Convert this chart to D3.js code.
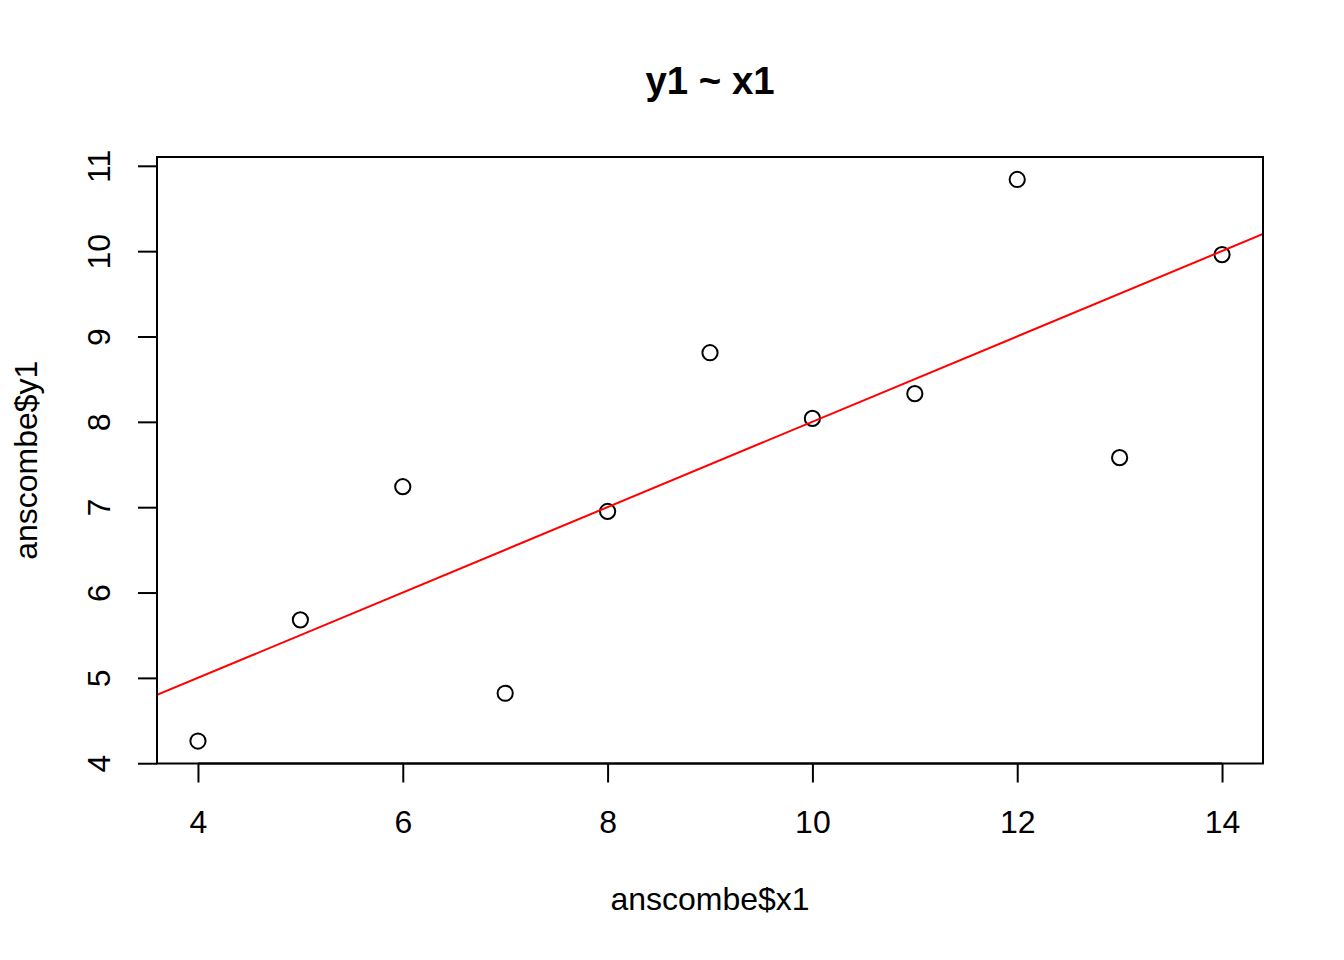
<!DOCTYPE html>
<html>
<head>
<meta charset="utf-8">
<script src="https://cdn.jsdelivr.net/npm/d3@7"></script>
<style>
  html, body { margin: 0; padding: 0; background: #fff; }
  svg { display: block; }
  text { font-family: "Liberation Sans", Arial, Helvetica, sans-serif; fill: #000; }
</style>
</head>
<body>
<svg id="chart" width="1344" height="960"></svg>
<script>
// Data: Anscombe's quartet, set 1
const x1 = [10, 8, 13, 9, 11, 14, 6, 4, 12, 7, 5];
const y1 = [8.04, 6.95, 7.58, 8.81, 8.33, 9.96, 7.24, 4.26, 10.84, 4.82, 5.68];
const xTicks = [4, 6, 8, 10, 12, 14];
const yTicks = [4, 5, 6, 7, 8, 9, 10, 11];
const titleText = "y1 ~ x1";
const xLabel = "anscombe$x1";
const yLabel = "anscombe$y1";

const svg = d3.select("#chart");
const plot = { left: 157, right: 1263, top: 157, bottom: 763.5 };

// R-style 4% axis extension
function extend(ext) {
  const d = (ext[1] - ext[0]) * 0.04;
  return [ext[0] - d, ext[1] + d];
}
const x = d3.scaleLinear().domain(extend(d3.extent(x1))).range([plot.left, plot.right]);
const y = d3.scaleLinear().domain(extend(d3.extent(y1))).range([plot.bottom, plot.top]);

// Least squares fit (as lm)
const mx = d3.mean(x1), my = d3.mean(y1);
let sxy = 0, sxx = 0;
for (let i = 0; i < x1.length; i++) { sxy += (x1[i] - mx) * (y1[i] - my); sxx += (x1[i] - mx) ** 2; }
const slope = sxy / sxx, intercept = my - slope * mx;

svg.append("defs").append("clipPath").attr("id", "clip")
  .append("rect").attr("x", plot.left).attr("y", plot.top)
  .attr("width", plot.right - plot.left).attr("height", plot.bottom - plot.top);

// Points
svg.append("g").selectAll("circle").data(x1.map((d, i) => [d, y1[i]])).join("circle")
  .attr("cx", d => x(d[0])).attr("cy", d => y(d[1])).attr("r", 7.6)
  .attr("fill", "none").attr("stroke", "#000").attr("stroke-width", 2);

// Regression line
const xd = x.domain();
svg.append("line").attr("clip-path", "url(#clip)")
  .attr("x1", x(xd[0])).attr("y1", y(intercept + slope * xd[0]))
  .attr("x2", x(xd[1])).attr("y2", y(intercept + slope * xd[1]))
  .attr("stroke", "#ff0000").attr("stroke-width", 2);

// Box
svg.append("rect").attr("x", plot.left).attr("y", plot.top)
  .attr("width", plot.right - plot.left).attr("height", plot.bottom - plot.top)
  .attr("fill", "none").attr("stroke", "#000").attr("stroke-width", 2);

// X axis
const xAxis = d3.axisBottom(x).tickValues(xTicks).tickSize(19).tickSizeOuter(0).tickPadding(0).tickFormat(d3.format("d"));
const gx = svg.append("g").attr("transform", `translate(0,${plot.bottom})`).call(xAxis);
gx.select(".domain").attr("d", `M${x(xTicks[0])},0H${x(xTicks[xTicks.length - 1])}`).attr("stroke-width", 2);
gx.selectAll(".tick line").attr("stroke-width", 2);
gx.selectAll(".tick text").attr("y", 69.5).attr("dy", null)
  .style("font-size", "32px").style("font-family", "'Liberation Sans', Arial, sans-serif").attr("fill", "#000");

// Y axis
const yAxis = d3.axisLeft(y).tickValues(yTicks).tickSize(19).tickSizeOuter(0).tickPadding(0).tickFormat(d3.format("d"));
const gy = svg.append("g").attr("transform", `translate(${plot.left},0)`).call(yAxis);
gy.select(".domain").attr("d", `M0,${y(yTicks[0])}V${y(yTicks[yTicks.length - 1])}`).attr("stroke-width", 2);
gy.selectAll(".tick line").attr("stroke-width", 2);
gy.selectAll(".tick text")
  .attr("x", null).attr("dy", null)
  .attr("transform", "translate(-47,0) rotate(-90)")
  .attr("text-anchor", "middle")
  .style("font-size", "32px").style("font-family", "'Liberation Sans', Arial, sans-serif").attr("fill", "#000");

const cx = (plot.left + plot.right) / 2, cy = (plot.top + plot.bottom) / 2;
// Title
svg.append("text").attr("x", cx).attr("y", 94).attr("text-anchor", "middle")
  .style("font-size", "38.4px").style("font-weight", "bold").text(titleText);
// X label
svg.append("text").attr("x", cx).attr("y", 910).attr("text-anchor", "middle")
  .style("font-size", "32px").text(xLabel);
// Y label
svg.append("text").attr("transform", `translate(37,${cy}) rotate(-90)`).attr("text-anchor", "middle")
  .style("font-size", "32px").text(yLabel);
</script>
</body>
</html>
